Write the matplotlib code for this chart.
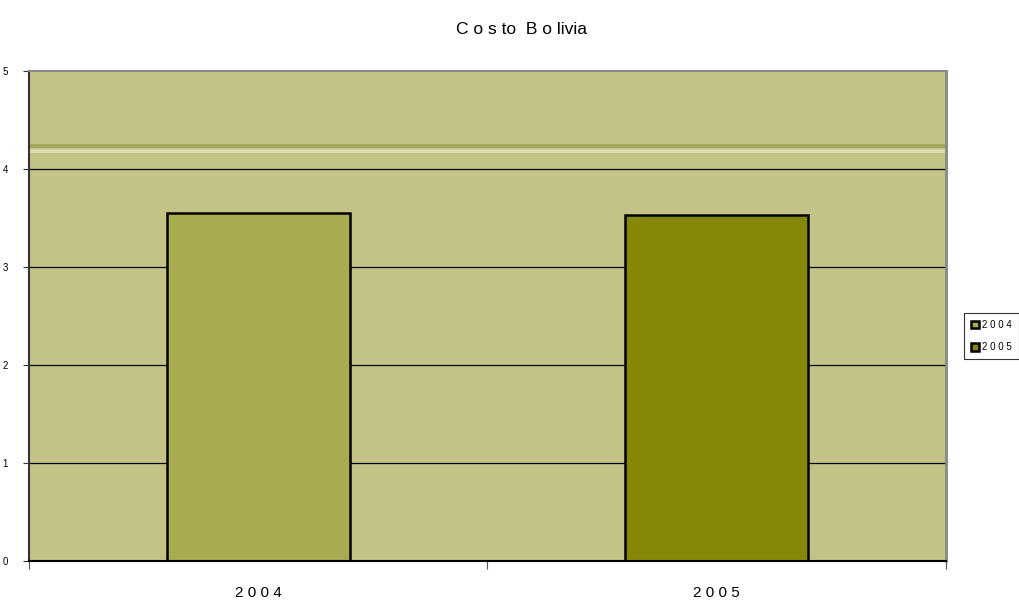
import matplotlib
matplotlib.use("Agg")
import matplotlib.pyplot as plt

# data
categories = ["2004", "2005"]
values = [3.55, 3.53]
colors = ["#a8ab50", "#858806"]
tick_labels = ["2 0 0 4", "2 0 0 5"]
legend_labels = ["2 0 0 4", "2 0 0 5"]

plt.rcParams['font.family'] = ['Liberation Sans Narrow', 'Liberation Sans', 'DejaVu Sans']

fig = plt.figure(figsize=(10.2, 6.01), dpi=100)
ax = fig.add_axes([29/1020, 40/601, 917/1020, 490/601])
ax.set_facecolor("#c3c387")

# decorative band near the top
ax.axhspan(4.215, 4.25, color="#a5a65c", lw=0, zorder=0.5)
ax.axhspan(4.165, 4.19, color="#dcdcb4", lw=0, zorder=0.5)
ax.axhspan(4.19, 4.2, color="#cfcf9f", lw=0, zorder=0.5)

for y in [1, 2, 3, 4]:
    ax.axhline(y, color="black", lw=0.9, zorder=1)

x = list(range(len(categories)))
for i in x:
    ax.bar(i, values[i], width=0.4, color=colors[i], edgecolor="black",
           linewidth=1.8, zorder=2, label=legend_labels[i])

ax.set_xlim(-0.5, 1.5)
ax.set_ylim(0, 5)
ax.set_yticks([0, 1, 2, 3, 4, 5])
ax.set_yticklabels(["0", "1", "2", "3", "4", "5"], fontsize=7)
ax.set_xticks([-0.5, 0.5, 1.5])
ax.set_xticklabels([])
ax.set_xticks(x, minor=True)
ax.set_xticklabels(tick_labels, minor=True, fontsize=11)
ax.tick_params(axis="x", which="minor", length=0, pad=18)
ax.tick_params(axis="x", which="major", length=6, color="#555555")
ax.tick_params(axis="y", length=4, pad=11, color="#333333")

ax.spines["left"].set_color("#333333")
ax.spines["left"].set_linewidth(1.5)
ax.spines["bottom"].set_color("black")
ax.spines["bottom"].set_linewidth(1.5)
ax.spines["top"].set_color("#888888")
ax.spines["top"].set_linewidth(1.5)
ax.spines["right"].set_color("#888888")
ax.spines["right"].set_linewidth(2)

fig.text(0.511, 1 - 29/601, "C o s to  B o livia", ha="center", va="center", fontsize=12.5)

leg = fig.legend(loc="upper left", bbox_to_anchor=(962/1020, 1 - 311/601),
                 fontsize=7, frameon=True, fancybox=False, edgecolor="black",
                 handlelength=0.8, handleheight=0.8, borderpad=0.7,
                 labelspacing=1.3, handletextpad=0.4, borderaxespad=0.2)
leg.get_frame().set_linewidth(0.8)

fig.savefig("out.png", dpi=100)
